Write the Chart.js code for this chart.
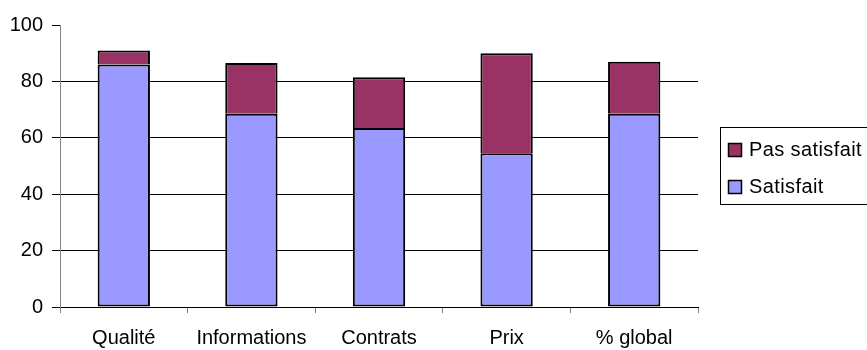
<!DOCTYPE html>
<html>
<head>
<meta charset="utf-8">
<script src="https://cdn.jsdelivr.net/npm/chart.js@4"></script>
<style>
  body { margin: 0; background: #fff; }
  #wrap { width: 867px; height: 350px; position: relative; }
</style>
</head>
<body>
<div id="wrap"><canvas id="satisChart"></canvas></div>
<script>
const categories = ['Qualité', 'Informations', 'Contrats', 'Prix', '% global'];
const satisfait = [86, 68.5, 63.5, 54.5, 68.5];
const pasSatisfait = [5, 18, 18, 35.5, 18.5];
const yTicks = [0, 20, 40, 60, 80, 100];

Chart.defaults.font.family = '"Liberation Sans", Arial, sans-serif';
Chart.defaults.font.size = 20;
Chart.defaults.color = '#000';

// legend drawn by hand: Excel-style box on the right, cut by the edge
const boxLegend = {
    id: 'boxLegend',
    afterDraw(chart) {
        const ctx = chart.ctx;
        ctx.save();
        ctx.strokeStyle = '#000';
        ctx.lineWidth = 1;
        ctx.strokeRect(720.5, 127.5, 160, 77);
        const items = chart.data.datasets.slice().reverse();
        items.forEach((ds, i) => {
            const y = 143 + i * 37;
            ctx.fillStyle = ds.backgroundColor;
            ctx.fillRect(728, y, 13, 13);
            ctx.strokeStyle = '#000';
            ctx.lineWidth = 1.5;
            ctx.strokeRect(728.5, y + 0.5, 13, 13);
            ctx.fillStyle = '#000';
            ctx.font = '20px "Liberation Sans", Arial, sans-serif';
            ctx.letterSpacing = '0.4px';
            ctx.textBaseline = 'middle';
            ctx.fillText(ds.label, 749, y + 7);
        });
        ctx.restore();
    }
};

const data = {
    labels: categories,
    datasets: [{
        label: 'Satisfait',
        data: satisfait,
        backgroundColor: '#9999ff',
        borderColor: '#000',
        borderWidth: 2,
        borderSkipped: false,
        barPercentage: 0.41,
        categoryPercentage: 1,
    }, {
        label: 'Pas satisfait',
        data: pasSatisfait,
        backgroundColor: '#993366',
        borderColor: '#000',
        borderWidth: {top: 2, left: 2, right: 2, bottom: 0},
        borderSkipped: false,
        barPercentage: 0.41,
        categoryPercentage: 1,
    }]
};

const config = {
    type: 'bar',
    data: data,
    plugins: [boxLegend],
    options: {
        responsive: true,
        maintainAspectRatio: false,
        animation: false,
        layout: {
            padding: {left: 8, right: 169, top: 25, bottom: 2},
        },
        plugins: {
            legend: { display: false },
            tooltip: { enabled: false },
        },
        scales: {
            x: {
                stacked: true,
                afterFit: (scale) => { scale.height = 41; },
                grid: {
                    offset: true,
                    drawOnChartArea: false,
                    tickLength: 6,
                    tickColor: '#808080',
                },
                border: { color: '#000', width: 1 },
                ticks: { padding: 13, maxRotation: 0 },
            },
            y: {
                stacked: true,
                min: 0,
                max: 100,
                afterFit: (scale) => { scale.width = 52; },
                afterBuildTicks: (scale) => {
                    scale.ticks = yTicks.map(v => ({value: v}));
                },
                grid: {
                    color: (c) => (c.tick && c.tick.value === 100) ? 'rgba(0,0,0,0)' : '#000',
                    tickColor: '#000',
                    tickLength: 8,
                },
                border: { color: '#808080', width: 1 },
                ticks: { padding: 9 },
            },
        },
    }
};

const satisChart = new Chart(document.getElementById('satisChart'), config);
</script>
</body>
</html>
